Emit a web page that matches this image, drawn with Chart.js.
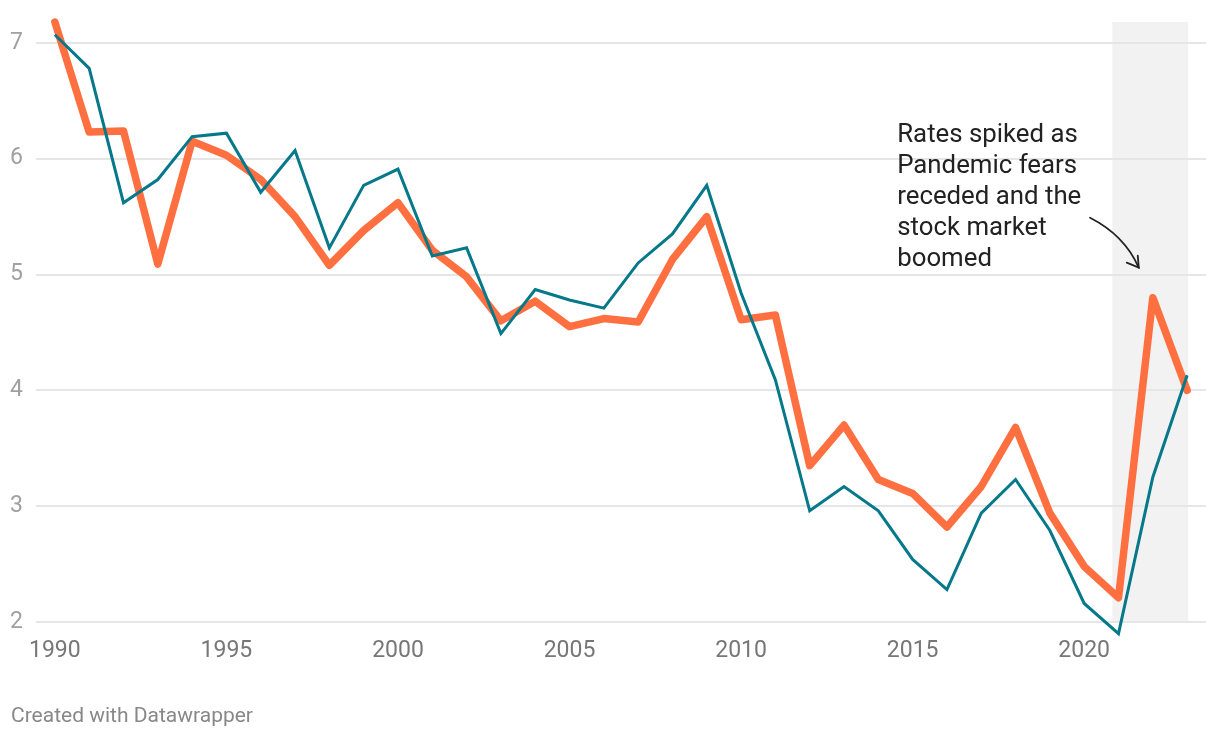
<!DOCTYPE html>
<html lang="en">
<head>
    <meta charset="UTF-8">
    <title>Rates 1990-2023</title>
    <script src="https://cdn.jsdelivr.net/npm/chart.js@4.4.0/dist/chart.umd.min.js"></script>
    <style>
        body {
            margin: 0;
            background: #fff;
        }

        .chart-wrap {
            position: relative;
            width: 1220px;
            height: 738px;
        }
    </style>
</head>
<body>
    <div class="chart-wrap">
        <canvas id="rates-chart"></canvas>
    </div>

    <script>
        // data
        const years = [1990, 1991, 1992, 1993, 1994, 1995, 1996, 1997, 1998, 1999,
            2000, 2001, 2002, 2003, 2004, 2005, 2006, 2007, 2008, 2009,
            2010, 2011, 2012, 2013, 2014, 2015, 2016, 2017, 2018, 2019,
            2020, 2021, 2022, 2023];
        const orangeSeries = [7.18, 6.23, 6.24, 5.09, 6.15, 6.03, 5.82, 5.50, 5.08, 5.38,
            5.62, 5.21, 4.98, 4.60, 4.77, 4.55, 4.62, 4.59, 5.13, 5.50,
            4.61, 4.65, 3.35, 3.70, 3.23, 3.11, 2.82, 3.17, 3.68, 2.94,
            2.48, 2.21, 4.80, 4.00];
        const tealSeries = [7.07, 6.78, 5.62, 5.82, 6.19, 6.22, 5.71, 6.07, 5.23, 5.77,
            5.91, 5.16, 5.23, 4.49, 4.87, 4.78, 4.71, 5.10, 5.35, 5.77,
            4.84, 4.09, 2.96, 3.17, 2.96, 2.54, 2.28, 2.94, 3.23, 2.79,
            2.16, 1.90, 3.25, 4.13];
        const xTicks = [1990, 1995, 2000, 2005, 2010, 2015, 2020];
        const yTicks = [2, 3, 4, 5, 6, 7];
        const highlight = [2020.82, 2023.03];
        const noteLines = ['Rates spiked as', 'Pandemic fears', 'receded and the', 'stock market', 'boomed'];

        const toPoints = (vals) => vals.map((v, i) => ({ x: years[i], y: v }));

        // grey band behind the pandemic years, drawn under the grid
        const bandPlugin = {
            id: 'band',
            beforeDraw(chart) {
                const { ctx, chartArea, scales } = chart;
                const x0 = scales.x.getPixelForValue(highlight[0]);
                const x1 = scales.x.getPixelForValue(highlight[1]);
                ctx.save();
                ctx.fillStyle = '#f2f2f2';
                ctx.fillRect(x0, chartArea.top, x1 - x0, scales.y.getPixelForValue(2) - chartArea.top);
                ctx.restore();
            }
        };

        // annotation text, arrow and footer
        const notePlugin = {
            id: 'note',
            afterDraw(chart) {
                const { ctx, scales } = chart;
                const xs = scales.x, ys = scales.y;
                ctx.save();
                ctx.fillStyle = '#222';
                ctx.font = '25.8px Roboto';
                ctx.textBaseline = 'middle';
                const tx = xs.getPixelForValue(2014.55);
                let ty = ys.getPixelForValue(6.20);
                noteLines.forEach((line) => {
                    ctx.fillText(line, tx, ty);
                    ty += 31;
                });

                // curved arrow
                const ax = xs.getPixelForValue(2020.17), ay = ys.getPixelForValue(5.49);
                const cx = xs.getPixelForValue(2021.17), cy = ys.getPixelForValue(5.34);
                const bx = xs.getPixelForValue(2021.59), by = ys.getPixelForValue(5.06);
                ctx.strokeStyle = '#222';
                ctx.lineWidth = 1.8;
                ctx.lineCap = 'round';
                ctx.beginPath();
                ctx.moveTo(ax, ay);
                ctx.quadraticCurveTo(cx, cy, bx, by);
                ctx.stroke();
                ctx.beginPath();
                ctx.moveTo(bx - 12, by - 5);
                ctx.lineTo(bx, by);
                ctx.lineTo(bx - 1, by - 12);
                ctx.stroke();

                ctx.fillStyle = '#888';
                ctx.font = '21px Roboto';
                ctx.textBaseline = 'alphabetic';
                ctx.fillText('Created with Datawrapper', 11, 722);
                ctx.restore();
            }
        };

        new Chart(document.getElementById('rates-chart'), {
            type: 'line',
            data: {
                datasets: [
                    {
                        label: 'Teal series',
                        data: toPoints(tealSeries),
                        borderColor: '#05788a',
                        borderWidth: 3,
                        borderJoinStyle: 'miter',
                        pointRadius: 0,
                        tension: 0,
                        clip: false,
                        order: 0
                    },
                    {
                        label: 'Orange series',
                        data: toPoints(orangeSeries),
                        borderColor: '#ff6f3f',
                        borderWidth: 7.5,
                        borderJoinStyle: 'round',
                        borderCapStyle: 'round',
                        pointRadius: 0,
                        tension: 0,
                        clip: false,
                        order: 1
                    }
                ]
            },
            options: {
                responsive: true,
                maintainAspectRatio: false,
                animation: false,
                layout: { padding: { top: 22, right: 14, left: 0, bottom: 0 } },
                plugins: {
                    legend: { display: false },
                    tooltip: { enabled: false }
                },
                scales: {
                    x: {
                        type: 'linear',
                        min: 1989.45,
                        max: 2023.55,
                        afterBuildTicks: (s) => { s.ticks = xTicks.map((v) => ({ value: v })); },
                        afterFit: (s) => { s.height = 116; },
                        grid: { display: false },
                        border: { display: false },
                        ticks: {
                            color: '#777',
                            font: { family: 'Roboto', size: 23 },
                            padding: 7,
                            maxRotation: 0,
                            autoSkip: false,
                            callback: (v) => String(v)
                        }
                    },
                    y: {
                        min: 2,
                        max: 7.18,
                        afterBuildTicks: (s) => { s.ticks = yTicks.map((v) => ({ value: v })); },
                        afterFit: (s) => {
                            s.width = 36;
                            s.paddingTop = 0;
                            s.paddingBottom = 0;
                        },
                        grid: { color: '#e6e6e6', lineWidth: 2, drawTicks: false },
                        border: { display: false },
                        ticks: {
                            color: '#a0a0a0',
                            font: { family: 'Roboto', size: 23 },
                            padding: 13
                        }
                    }
                }
            },
            plugins: [bandPlugin, notePlugin]
        });
    </script>
</body>
</html>
